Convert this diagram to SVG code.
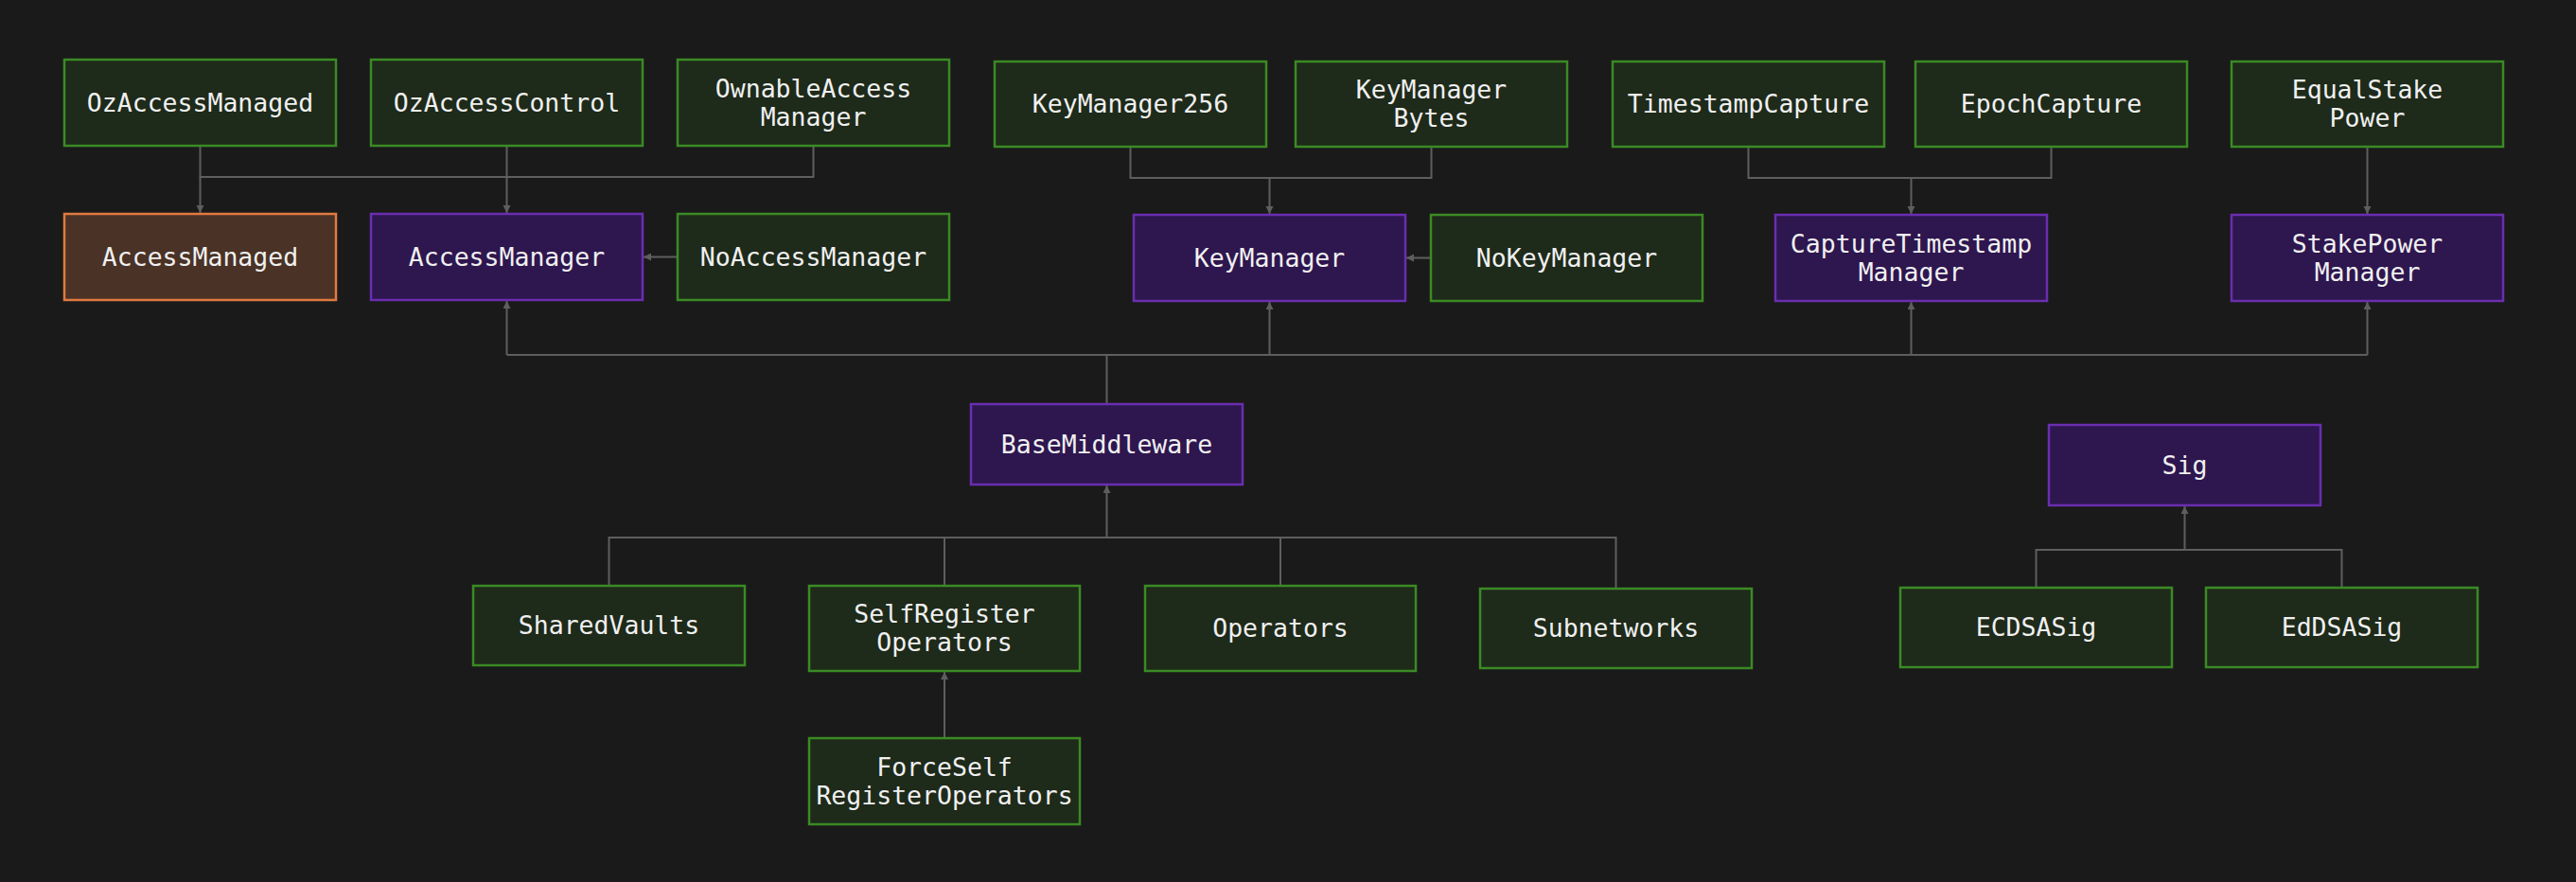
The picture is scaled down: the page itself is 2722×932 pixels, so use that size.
<svg xmlns="http://www.w3.org/2000/svg" width="2722" height="932" viewBox="0 0 2722 932">
<style>
.n rect{stroke-width:2.5}
.g rect{fill:#1e2a1a;stroke:#3b8a24}
.p rect{fill:#2e164f;stroke:#6a2eaf}
.o rect{fill:#4a3226;stroke:#e07a40}
.n text{font-family:"DejaVu Sans Mono","Liberation Mono",monospace;font-size:26.5px;fill:#f0f0f0;text-anchor:middle}
.e path{fill:none;stroke:#5e5e5e;stroke-width:2}
.e path.a{marker-end:url(#ah)}
</style>
<defs>
<marker id="ah" markerUnits="userSpaceOnUse" markerWidth="10" markerHeight="10" refX="8" refY="4" orient="auto">
<path d="M0,0 L8,4 L0,8 Z" fill="#5e5e5e"/>
</marker>
</defs>
<rect width="2722" height="932" fill="#1a1a1a"/>
<g id="connectors" class="e">
<path d="M211.5 154 V187 H859.5 V154"/>
<path d="M535.5 154 V187"/>
<path class="a" d="M211.5 187 V225"/>
<path class="a" d="M535.5 187 V225"/>
<path class="a" d="M716 271.5 H680"/>
<path d="M1194.5 155 V188 H1512.5 V155"/>
<path class="a" d="M1341.5 188 V226"/>
<path class="a" d="M1512 272.5 H1486"/>
<path d="M1847.5 155 V188 H2167.5 V155"/>
<path class="a" d="M2019.5 188 V226"/>
<path class="a" d="M2501.5 155 V226"/>
<path d="M1169.5 427 V375"/>
<path d="M535.5 375 H2501.5"/>
<path class="a" d="M535.5 375 V318"/>
<path class="a" d="M1341.5 375 V319"/>
<path class="a" d="M2019.5 375 V319"/>
<path class="a" d="M2501.5 375 V319"/>
<path d="M643.5 619 V568 H1707.5 V622"/>
<path d="M998 619 V568"/>
<path d="M1353 619 V568"/>
<path class="a" d="M1169.5 568 V513"/>
<path class="a" d="M998 780 V710"/>
<path d="M2151.5 621 V581 H2474.5 V621"/>
<path class="a" d="M2308.5 581 V535"/>
</g>
<g id="OzAccessManaged" class="n g"><rect x="68" y="63" width="287" height="91"/><text x="211.5" y="118">OzAccessManaged</text></g>
<g id="OzAccessControl" class="n g"><rect x="392" y="63" width="287" height="91"/><text x="535.5" y="118">OzAccessControl</text></g>
<g id="OwnableAccessManager" class="n g"><rect x="716" y="63" width="287" height="91"/><text x="859.5" y="103">OwnableAccess</text><text x="859.5" y="133">Manager</text></g>
<g id="KeyManager256" class="n g"><rect x="1051" y="65" width="287" height="90"/><text x="1194.5" y="119">KeyManager256</text></g>
<g id="KeyManagerBytes" class="n g"><rect x="1369" y="65" width="287" height="90"/><text x="1512.5" y="104">KeyManager</text><text x="1512.5" y="134">Bytes</text></g>
<g id="TimestampCapture" class="n g"><rect x="1704" y="65" width="287" height="90"/><text x="1847.5" y="119">TimestampCapture</text></g>
<g id="EpochCapture" class="n g"><rect x="2024" y="65" width="287" height="90"/><text x="2167.5" y="119">EpochCapture</text></g>
<g id="EqualStakePower" class="n g"><rect x="2358" y="65" width="287" height="90"/><text x="2501.5" y="104">EqualStake</text><text x="2501.5" y="134">Power</text></g>
<g id="AccessManaged" class="n o"><rect x="68" y="226" width="287" height="91"/><text x="211.5" y="281">AccessManaged</text></g>
<g id="AccessManager" class="n p"><rect x="392" y="226" width="287" height="91"/><text x="535.5" y="281">AccessManager</text></g>
<g id="NoAccessManager" class="n g"><rect x="716" y="226" width="287" height="91"/><text x="859.5" y="281">NoAccessManager</text></g>
<g id="KeyManager" class="n p"><rect x="1198" y="227" width="287" height="91"/><text x="1341.5" y="282">KeyManager</text></g>
<g id="NoKeyManager" class="n g"><rect x="1512" y="227" width="287" height="91"/><text x="1655.5" y="282">NoKeyManager</text></g>
<g id="CaptureTimestampManager" class="n p"><rect x="1876" y="227" width="287" height="91"/><text x="2019.5" y="267">CaptureTimestamp</text><text x="2019.5" y="297">Manager</text></g>
<g id="StakePowerManager" class="n p"><rect x="2358" y="227" width="287" height="91"/><text x="2501.5" y="267">StakePower</text><text x="2501.5" y="297">Manager</text></g>
<g id="BaseMiddleware" class="n p"><rect x="1026" y="427" width="287" height="85"/><text x="1169.5" y="479">BaseMiddleware</text></g>
<g id="Sig" class="n p"><rect x="2165" y="449" width="287" height="85"/><text x="2308.5" y="501">Sig</text></g>
<g id="SharedVaults" class="n g"><rect x="500" y="619" width="287" height="84"/><text x="643.5" y="670">SharedVaults</text></g>
<g id="SelfRegisterOperators" class="n g"><rect x="855" y="619" width="286" height="90"/><text x="998" y="658">SelfRegister</text><text x="998" y="688">Operators</text></g>
<g id="Operators" class="n g"><rect x="1210" y="619" width="286" height="90"/><text x="1353" y="673">Operators</text></g>
<g id="Subnetworks" class="n g"><rect x="1564" y="622" width="287" height="84"/><text x="1707.5" y="673">Subnetworks</text></g>
<g id="ForceSelfRegisterOperators" class="n g"><rect x="855" y="780" width="286" height="91"/><text x="998" y="820">ForceSelf</text><text x="998" y="850">RegisterOperators</text></g>
<g id="ECDSASig" class="n g"><rect x="2008" y="621" width="287" height="84"/><text x="2151.5" y="672">ECDSASig</text></g>
<g id="EdDSASig" class="n g"><rect x="2331" y="621" width="287" height="84"/><text x="2474.5" y="672">EdDSASig</text></g>
</svg>
